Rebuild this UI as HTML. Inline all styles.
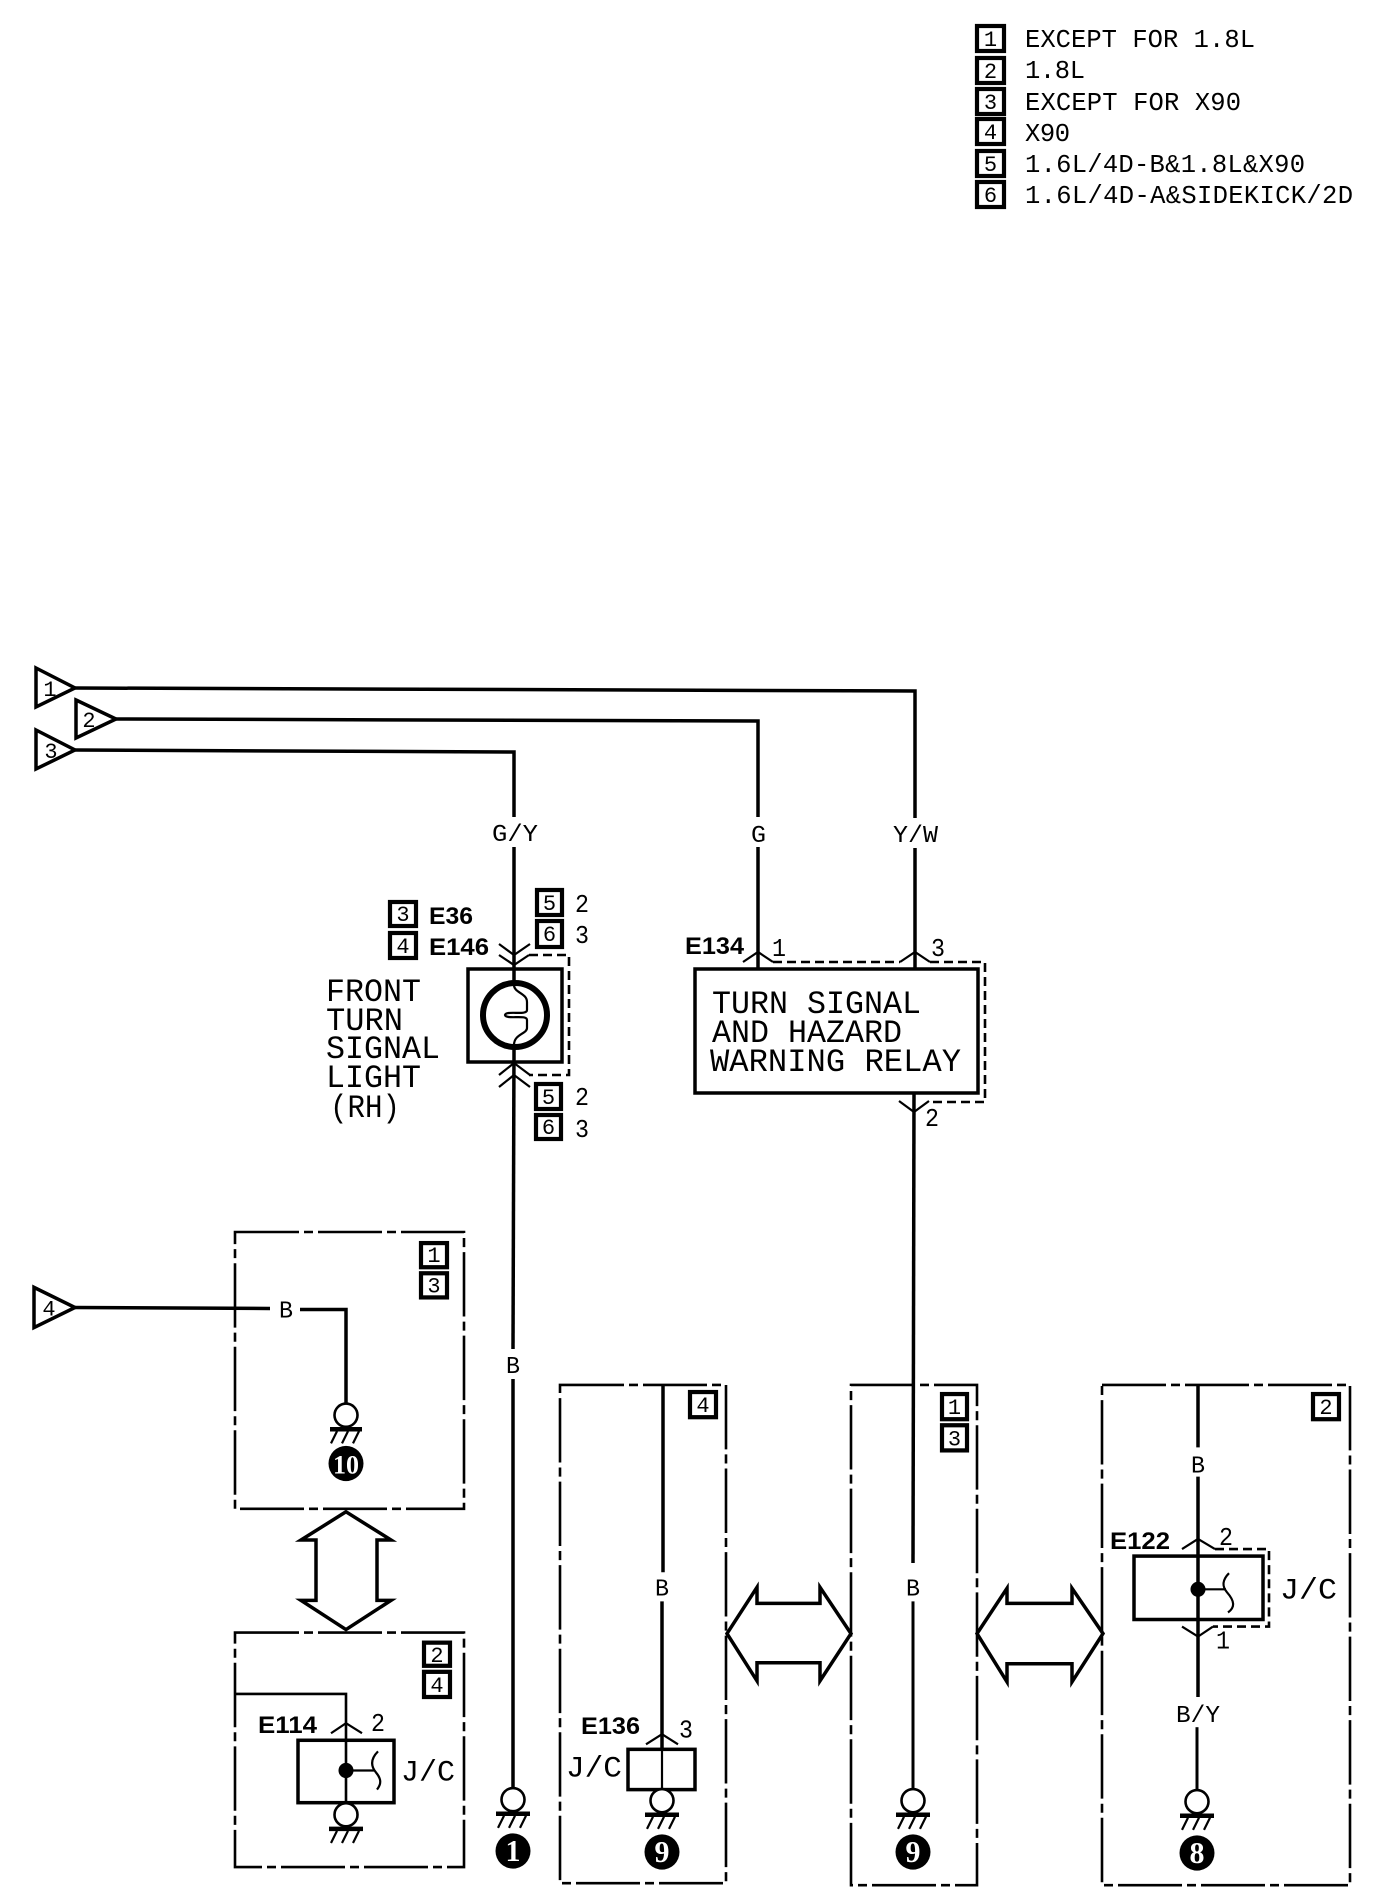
<!DOCTYPE html>
<html lang="en">
<head>
<meta charset="utf-8">
<title>Turn signal wiring diagram</title>
<style>
html,body{margin:0;padding:0;background:#fff}
svg{display:block}
text{font-family:"Liberation Mono",monospace;fill:#000}
.l{font-size:25.5px}
.t{font-size:32px}
.w{font-size:24px}
.m{font-size:26px}
.n{font-size:22px}
.b{font-family:"Liberation Sans",sans-serif;font-weight:bold;font-size:24px}
.d{font-size:22px;text-anchor:middle}
.c{font-family:"Liberation Serif",serif;font-weight:bold;font-size:30px;text-anchor:middle;fill:#fff}
.s{fill:none;stroke:#000;stroke-width:3.5}
.f{fill:none;stroke:#000;stroke-width:2.2}
.p{fill:none;stroke:#000;stroke-width:2.6;stroke-dasharray:64 5 9 5}
.h{fill:none;stroke:#000;stroke-width:2.6;stroke-dasharray:9 5}
.k{fill:#fff;stroke:#000;stroke-width:4.2}
</style>
</head>
<body>
<svg width="1376" height="1902" viewBox="0 0 1376 1902" xmlns="http://www.w3.org/2000/svg">
<rect width="1376" height="1902" fill="#fff"/>

<!-- legend -->
<g>
<rect class="k" x="977" y="26" width="27" height="25"/><text class="d" x="990.5" y="46">1</text>
<rect class="k" x="977" y="58" width="27" height="25"/><text class="d" x="990.5" y="78">2</text>
<rect class="k" x="977" y="89" width="27" height="25"/><text class="d" x="990.5" y="109">3</text>
<rect class="k" x="977" y="119" width="27" height="25"/><text class="d" x="990.5" y="139">4</text>
<rect class="k" x="977" y="151" width="27" height="25"/><text class="d" x="990.5" y="171">5</text>
<rect class="k" x="977" y="182" width="27" height="25"/><text class="d" x="990.5" y="202">6</text>
<text class="l" x="1025" y="47" textLength="230">EXCEPT FOR 1.8L</text>
<text class="l" x="1025" y="78" textLength="60">1.8L</text>
<text class="l" x="1025" y="110" textLength="216">EXCEPT FOR X90</text>
<text class="l" x="1025" y="141" textLength="45">X90</text>
<text class="l" x="1025" y="172" textLength="280">1.6L/4D-B&amp;1.8L&amp;X90</text>
<text class="l" x="1025" y="203" textLength="328">1.6L/4D-A&amp;SIDEKICK/2D</text>
</g>

<!-- input triangles -->
<polygon class="s" points="36,668 75,688 36,707"/>
<text class="n" x="50" y="696" text-anchor="middle">1</text>
<polygon class="s" points="76,700 116,719 76,738"/>
<text class="n" x="89" y="727" text-anchor="middle">2</text>
<polygon class="s" points="36,730 75,750 36,769"/>
<text class="n" x="51" y="758" text-anchor="middle">3</text>

<!-- top wires -->
<polyline class="s" points="75,688 915,691 915,818"/>
<polyline class="s" points="116,719 758,721 758,817"/>
<polyline class="s" points="75,750 514,752 514,817"/>
<line class="s" x1="514" y1="847" x2="514" y2="983"/>
<line class="s" x1="514" y1="1047" x2="513" y2="1349"/>
<line class="s" x1="758" y1="847" x2="758" y2="969"/>
<line class="s" x1="915" y1="848" x2="915" y2="969"/>
<text class="w" x="492" y="841" textLength="46" lengthAdjust="spacingAndGlyphs">G/Y</text>
<text class="w" x="751" y="842" textLength="15" lengthAdjust="spacingAndGlyphs">G</text>
<text class="w" x="893" y="842" textLength="45" lengthAdjust="spacingAndGlyphs">Y/W</text>

<!-- front turn signal light -->
<rect class="k" x="390" y="902" width="26" height="24"/><text class="d" x="403" y="921">3</text>
<rect class="k" x="390" y="933" width="26" height="25"/><text class="d" x="403" y="953">4</text>
<text class="b" x="429" y="924" textLength="44" lengthAdjust="spacingAndGlyphs">E36</text>
<text class="b" x="429" y="955" textLength="60" lengthAdjust="spacingAndGlyphs">E146</text>
<rect class="k" x="537" y="890" width="25" height="25"/><text class="d" x="549.5" y="910">5</text>
<rect class="k" x="537" y="921" width="25" height="26"/><text class="d" x="549.5" y="941">6</text>
<text class="m" x="575" y="912" textLength="14" lengthAdjust="spacingAndGlyphs">2</text>
<text class="m" x="575" y="943" textLength="14" lengthAdjust="spacingAndGlyphs">3</text>
<polyline class="f" points="499,944 514,955 530,944"/>
<polyline class="f" points="499,955 514,965 529,955"/>
<polyline class="h" points="529,955 569,955 569,1075 529,1075"/>
<rect class="s" x="468" y="969" width="94" height="93" style="fill:#fff"/>
<line class="s" x1="514" y1="969" x2="514" y2="983"/>
<line class="s" x1="514" y1="1047" x2="514" y2="1062"/>
<circle cx="515" cy="1015" r="32" fill="none" stroke="#000" stroke-width="6"/>
<path class="f" d="M514,985 C514,993 527,993 527,1002 V1010 C527,1016 506,1010 505,1015 C506,1020 527,1014 527,1020 V1028 C527,1034 514,1034 514,1045"/>
<polyline class="f" points="499,1075 514,1063 530,1075"/>
<polyline class="f" points="499,1087 514,1075 530,1087"/>
<rect class="k" x="536" y="1084" width="25" height="25"/><text class="d" x="548.5" y="1104">5</text>
<rect class="k" x="536" y="1115" width="25" height="24"/><text class="d" x="548.5" y="1134">6</text>
<text class="m" x="575" y="1105" textLength="14" lengthAdjust="spacingAndGlyphs">2</text>
<text class="m" x="575" y="1137" textLength="14" lengthAdjust="spacingAndGlyphs">3</text>
<text class="t" x="326" y="1001" textLength="95" lengthAdjust="spacingAndGlyphs">FRONT</text>
<text class="t" x="326" y="1030" textLength="77" lengthAdjust="spacingAndGlyphs">TURN</text>
<text class="t" x="326" y="1058" textLength="114" lengthAdjust="spacingAndGlyphs">SIGNAL</text>
<text class="t" x="326" y="1087" textLength="95" lengthAdjust="spacingAndGlyphs">LIGHT</text>
<text class="t" x="330" y="1117" textLength="70" lengthAdjust="spacingAndGlyphs">(RH)</text>

<!-- relay -->
<text class="b" x="685" y="954" textLength="59" lengthAdjust="spacingAndGlyphs">E134</text>
<text class="m" x="772" y="956" textLength="14" lengthAdjust="spacingAndGlyphs">1</text>
<text class="m" x="931" y="956" textLength="14" lengthAdjust="spacingAndGlyphs">3</text>
<polyline class="f" points="743,962 758,952 773,962"/>
<polyline class="f" points="900,962 915,952 930,962"/>
<line class="h" x1="773" y1="962" x2="900" y2="962"/>
<polyline class="h" points="930,962 985,962 985,1102 929,1102"/>
<rect class="s" x="695" y="969" width="283" height="124"/>
<text class="t" x="712" y="1013" textLength="209" lengthAdjust="spacingAndGlyphs">TURN SIGNAL</text>
<text class="t" x="712" y="1042" textLength="190" lengthAdjust="spacingAndGlyphs">AND HAZARD</text>
<text class="t" x="710" y="1071" textLength="251" lengthAdjust="spacingAndGlyphs">WARNING RELAY</text>
<polyline class="f" points="899,1101 914,1112 929,1101"/>
<text class="m" x="925" y="1126" textLength="14" lengthAdjust="spacingAndGlyphs">2</text>
<line class="s" x1="914" y1="1093" x2="913" y2="1563"/>

<!-- lower section -->
<g transform="translate(0 -1.97) scale(1 1.0065)">
<polygon class="s" points="34,1281 75,1301 34,1321"/>
<text class="n" x="49" y="1309" text-anchor="middle">4</text>

<!-- panel A: 1 3 -->
<rect class="p" x="235" y="1226" width="229" height="275"/>
<rect class="k" x="421" y="1237" width="26" height="24"/><text class="d" x="434" y="1256">1</text>
<rect class="k" x="421" y="1267" width="26" height="24"/><text class="d" x="434" y="1286">3</text>
<line class="s" x1="75" y1="1301" x2="270" y2="1302"/>
<text class="w" x="279" y="1311" textLength="14" lengthAdjust="spacingAndGlyphs">B</text>
<polyline class="s" points="300,1303 346,1303 346,1397"/>
<g transform="translate(346 1408)">
<circle r="11.5" fill="#fff" stroke="#000" stroke-width="2.6"/>
<line x1="-16" y1="14" x2="16" y2="14" stroke="#000" stroke-width="4.5"/>
<path class="f" d="M-9,16 L-15,28 M2,16 L-4,28 M13,16 L7,28"/>
</g>
<circle cx="346" cy="1456" r="17.5"/><text class="c" x="346" y="1466" style="font-size:26px" textLength="26" lengthAdjust="spacingAndGlyphs">10</text>

<!-- vertical double arrow -->
<polygon class="s" points="346,1504 301,1532 316,1532 316,1592 301,1592 346,1621 391,1592 377,1592 377,1532 391,1532"/>

<!-- panel B: 2 4 -->
<rect class="p" x="235" y="1624" width="229" height="233"/>
<rect class="k" x="424" y="1634" width="26" height="23"/><text class="d" x="437" y="1653">2</text>
<rect class="k" x="424" y="1663" width="26" height="25"/><text class="d" x="437" y="1683">4</text>
<polyline class="s" points="235,1685 346,1685 346,1793" style="stroke-width:2.6"/>
<text class="b" x="258" y="1724" textLength="59" lengthAdjust="spacingAndGlyphs">E114</text>
<text class="m" x="371" y="1722" textLength="14" lengthAdjust="spacingAndGlyphs">2</text>
<polyline class="f" points="331,1724 346,1714 362,1724"/>
<rect class="s" x="298" y="1731" width="96" height="62"/>
<circle cx="346" cy="1761" r="7.5"/>
<line class="f" x1="346" y1="1761" x2="374" y2="1761"/>
<path class="f" d="M378,1742 C370,1750 371,1757 376,1763 C382,1770 381,1775 377,1780"/>
<text class="t" x="401" y="1771" style="font-size:29px" textLength="54" lengthAdjust="spacingAndGlyphs">J/C</text>
<g transform="translate(346 1805)">
<circle r="11.5" fill="#fff" stroke="#000" stroke-width="2.6"/>
<line x1="-17" y1="14" x2="17" y2="14" stroke="#000" stroke-width="4.5"/>
<path class="f" d="M-9,16 L-15,28 M2,16 L-4,28 M13,16 L7,28"/>
</g>

<!-- main B wire ground -->
<line class="s" x1="513" y1="1372" x2="513" y2="1779"/>
<text class="w" x="506" y="1366" textLength="14" lengthAdjust="spacingAndGlyphs">B</text>
<g transform="translate(513 1790)">
<circle r="11.5" fill="#fff" stroke="#000" stroke-width="2.6"/>
<line x1="-17" y1="14" x2="17" y2="14" stroke="#000" stroke-width="4.5"/>
<path class="f" d="M-9,16 L-15,28 M2,16 L-4,28 M13,16 L7,28"/>
</g>
<circle cx="513" cy="1841" r="17.5"/><text class="c" x="513" y="1851">1</text>

<!-- panel 4 -->
<rect class="p" x="560" y="1378" width="166" height="495"/>
<rect class="k" x="690" y="1385" width="26" height="25"/><text class="d" x="703" y="1405">4</text>
<line class="s" x1="663" y1="1378" x2="663" y2="1564"/>
<text class="w" x="655" y="1587" textLength="14" lengthAdjust="spacingAndGlyphs">B</text>
<line class="s" x1="662" y1="1593" x2="662" y2="1740"/>
<text class="b" x="581" y="1725" textLength="59" lengthAdjust="spacingAndGlyphs">E136</text>
<text class="m" x="679" y="1728" textLength="14" lengthAdjust="spacingAndGlyphs">3</text>
<polyline class="f" points="646,1735 662,1725 678,1735"/>
<rect class="s" x="628" y="1740" width="67" height="40"/>
<line class="f" x1="662" y1="1740" x2="662" y2="1780"/>
<text class="t" x="566" y="1767" style="font-size:29px" textLength="56" lengthAdjust="spacingAndGlyphs">J/C</text>
<g transform="translate(662 1791)">
<circle r="11.5" fill="#fff" stroke="#000" stroke-width="2.6"/>
<line x1="-17" y1="14" x2="17" y2="14" stroke="#000" stroke-width="4.5"/>
<path class="f" d="M-9,16 L-15,28 M2,16 L-4,28 M13,16 L7,28"/>
</g>
<circle cx="662" cy="1842" r="17.5"/><text class="c" x="662" y="1852">9</text>

<!-- arrow 4 <-> 1,3 -->
<polygon class="s" points="727,1625 757,1579 757,1595 820,1595 820,1579 851,1625 820,1672 820,1654 757,1654 757,1672"/>

<!-- panel 1 3 middle -->
<rect class="p" x="851" y="1378" width="126" height="497"/>
<rect class="k" x="942" y="1387" width="25" height="25"/><text class="d" x="954.5" y="1407">1</text>
<rect class="k" x="942" y="1418" width="25" height="25"/><text class="d" x="954.5" y="1438">3</text>
<text class="w" x="906" y="1587" textLength="14" lengthAdjust="spacingAndGlyphs">B</text>
<line class="s" x1="913" y1="1593" x2="913" y2="1780" style="stroke-width:3"/>
<g transform="translate(913 1791)">
<circle r="11.5" fill="#fff" stroke="#000" stroke-width="2.6"/>
<line x1="-17" y1="14" x2="17" y2="14" stroke="#000" stroke-width="4.5"/>
<path class="f" d="M-9,16 L-15,28 M2,16 L-4,28 M13,16 L7,28"/>
</g>
<circle cx="913" cy="1842" r="17.5"/><text class="c" x="913" y="1852">9</text>

<!-- arrow 1,3 <-> 2 -->
<polygon class="s" points="977,1625 1007,1580 1007,1595 1072,1595 1072,1580 1103,1625 1072,1673 1072,1655 1007,1655 1007,1673"/>

<!-- panel 2 -->
<rect class="p" x="1102" y="1378" width="248" height="497"/>
<rect class="k" x="1313" y="1387" width="26" height="25"/><text class="d" x="1326" y="1407">2</text>
<line class="s" x1="1198" y1="1378" x2="1198" y2="1440"/>
<text class="w" x="1191" y="1465" textLength="14" lengthAdjust="spacingAndGlyphs">B</text>
<line class="s" x1="1198" y1="1469" x2="1198" y2="1688"/>
<text class="b" x="1110" y="1541" textLength="60" lengthAdjust="spacingAndGlyphs">E122</text>
<text class="m" x="1219" y="1537" textLength="14" lengthAdjust="spacingAndGlyphs">2</text>
<polyline class="f" points="1182,1541 1198,1531 1215,1541"/>
<polyline class="h" points="1215,1541 1269,1541 1269,1618 1213,1618"/>
<rect class="s" x="1134" y="1548" width="129" height="63"/>
<circle cx="1198" cy="1581" r="7.5"/>
<line class="f" x1="1198" y1="1581" x2="1226" y2="1581"/>
<path class="f" d="M1229,1565 C1222,1572 1222,1578 1227,1584 C1235,1593 1235,1599 1228,1604"/>
<text class="t" x="1280" y="1590" style="font-size:29px" textLength="57" lengthAdjust="spacingAndGlyphs">J/C</text>
<polyline class="f" points="1182,1618 1198,1628 1213,1618"/>
<text class="m" x="1216" y="1640" textLength="14" lengthAdjust="spacingAndGlyphs">1</text>
<text class="w" x="1176" y="1713" textLength="44" lengthAdjust="spacingAndGlyphs">B/Y</text>
<line class="s" x1="1197" y1="1718" x2="1197" y2="1781" style="stroke-width:3"/>
<g transform="translate(1197 1792)">
<circle r="11.5" fill="#fff" stroke="#000" stroke-width="2.6"/>
<line x1="-17" y1="14" x2="17" y2="14" stroke="#000" stroke-width="4.5"/>
<path class="f" d="M-9,16 L-15,28 M2,16 L-4,28 M13,16 L7,28"/>
</g>
<circle cx="1197" cy="1843" r="17.5"/><text class="c" x="1197" y="1853">8</text>
</g>
</svg>
</body>
</html>
